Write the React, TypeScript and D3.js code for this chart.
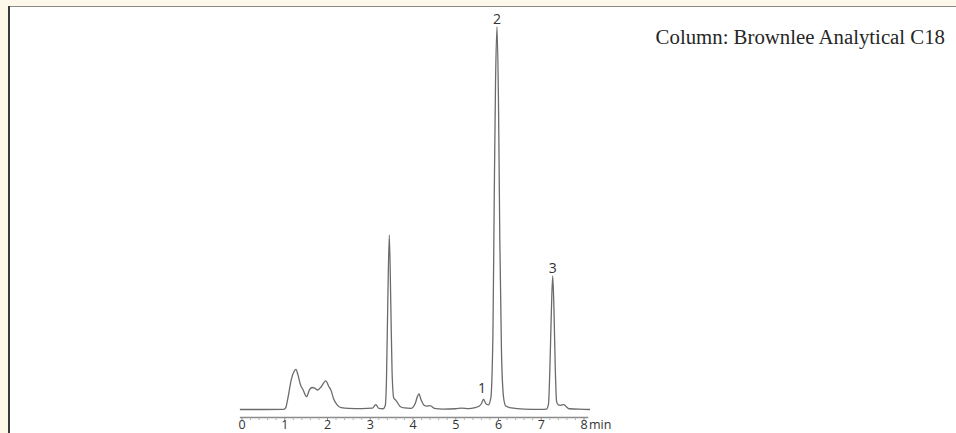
import React from "react";
import * as d3 from "d3";

// Chromatogram trace: retention time (min) and detector response (relative, peak 2 = 100)
const times: number[] = [
  -0.05, 0.5, 0.98, 1.02, 1.08, 1.15, 1.22, 1.26, 1.31, 1.37, 1.43, 1.51, 1.58, 1.64, 1.7, 1.77, 1.85, 1.96,
  2.03, 2.08, 2.14, 2.22, 2.32, 2.5, 2.8, 3.05, 3.13, 3.2, 3.3, 3.35, 3.38, 3.41, 3.446, 3.48, 3.51, 3.55,
  3.6, 3.7, 3.8, 3.95, 4.05, 4.1, 4.14, 4.19, 4.26, 4.32, 4.4, 4.5, 4.7, 5.0, 5.14, 5.3, 5.45, 5.55, 5.6,
  5.65, 5.7, 5.76, 5.82, 5.87, 5.9, 5.93, 5.965, 6.0, 6.03, 6.07, 6.12, 6.17, 6.3, 6.6, 7.0, 7.12, 7.17,
  7.2, 7.235, 7.268, 7.3, 7.33, 7.36, 7.4, 7.45, 7.53, 7.58, 7.65, 8.0, 8.14,
];
const signal: number[] = [
  0, 0, 0.05, 0.4, 3.35, 7.7, 10.0, 10.5, 9.0, 6.4, 5.1, 3.35, 5.2, 5.75, 5.6, 5.1, 5.9, 7.5,
  6.0, 5.1, 2.9, 1.3, 0.5, 0.3, 0.25, 0.35, 1.3, 0.3, 0.2, 1.0, 8, 28, 45.6, 28, 10, 3,
  2.4, 0.8, 0.4, 0.3, 1.5, 3.3, 4.05, 2.5, 1.1, 0.9, 1.0, 0.3, 0.1, 0.2, 0.35, 0.25, 0.5, 0.9, 1.5,
  2.7, 1.6, 1.2, 3, 20, 55, 85, 100, 80, 45, 15, 3, 0.9, 0.4, 0.1, 0.05, 0.1, 1.5,
  10, 25, 34.9, 25, 10, 2, 1.2, 1.1, 1.3, 0.8, 0.2, 0.05, 0,
];

// Peak labels
const peakNames: string[] = ["1", "2", "3"];
const peakTimes: number[] = [5.65, 5.965, 7.268];
const peakHeights: number[] = [2.7, 100, 34.9];

const axisTicks: number[] = [0, 1, 2, 3, 4, 5, 6, 7, 8];
const axisUnit = "min";
const columnNote = "Column: Brownlee Analytical C18";

export default function App() {
  const W = 956;
  const H = 433;
  const x = d3.scaleLinear().domain([0, 8]).range([242, 584]);
  const y = d3.scaleLinear().domain([0, 100]).range([409.5, 27]);

  const pts: [number, number][] = times.map((t, i) => [t, signal[i]]);
  const line = d3
    .line<[number, number]>()
    .x((d) => x(d[0]))
    .y((d) => y(d[1]))
    .curve(d3.curveMonotoneX);

  const minorTicks = d3.range(0, 40).map((i) => i * 0.2).filter((v) => Math.abs(v - Math.round(v)) > 1e-6);
  const axisY = 417.5;
  const labelFont = "'Liberation Sans Narrow', 'Arial Narrow', 'Open Sans', sans-serif";

  return (
    <svg
      width={W}
      height={H}
      style={{ position: "fixed", left: 0, top: 0, display: "block" }}
    >
      <rect x={0} y={0} width={W} height={H} fill="#fdf8ea" />
      <rect x={9} y={7} width={W - 9} height={H - 7} fill="#ffffff" />
      <line x1={8} x2={W} y1={6.5} y2={6.5} stroke="#8a8a86" strokeWidth={1.2} />
      <line x1={9} x2={9} y1={6} y2={H} stroke="#3a3a3a" strokeWidth={2} />

      <text
        x={945}
        y={44}
        textAnchor="end"
        fontFamily="'Liberation Serif', 'DejaVu Serif', serif"
        fontSize={20.8}
        fill="#262626"
      >
        {columnNote}
      </text>

      {/* axis */}
      <line x1={x(-0.05)} x2={x(8.1)} y1={axisY} y2={axisY} stroke="#8c8c8c" strokeWidth={1.3} />
      {minorTicks.map((v) => (
        <line key={"m" + v} x1={x(v)} x2={x(v)} y1={axisY + 1} y2={axisY + 2.5} stroke="#a8a8a8" strokeWidth={1} />
      ))}
      {axisTicks.map((v) => (
        <g key={"t" + v}>
          <line x1={x(v)} x2={x(v)} y1={axisY} y2={axisY + 2.5} stroke="#8c8c8c" strokeWidth={1} />
          <text
            x={x(v)}
            y={429}
            textAnchor="middle"
            fontFamily={labelFont}
            fontSize={12.5}
            fill="#333"
          >
            {v}
          </text>
        </g>
      ))}
      <text x={x(8) + 5} y={429} fontFamily={labelFont} fontSize={12.5} fill="#333">
        {axisUnit}
      </text>

      {/* trace */}
      <path d={line(pts) || ""} fill="none" stroke="#6b6b6b" strokeWidth={1.3} strokeLinejoin="round" />

      {peakNames.map((n, i) => (
        <text
          key={"p" + n}
          x={x(peakTimes[i]) - (i === 0 ? 1.5 : 0)}
          y={y(peakHeights[i]) - (i === 0 ? 6.5 : 3.5)}
          textAnchor="middle"
          fontFamily={labelFont}
          fontSize={14}
          fill="#333"
        >
          {n}
        </text>
      ))}
    </svg>
  );
}
